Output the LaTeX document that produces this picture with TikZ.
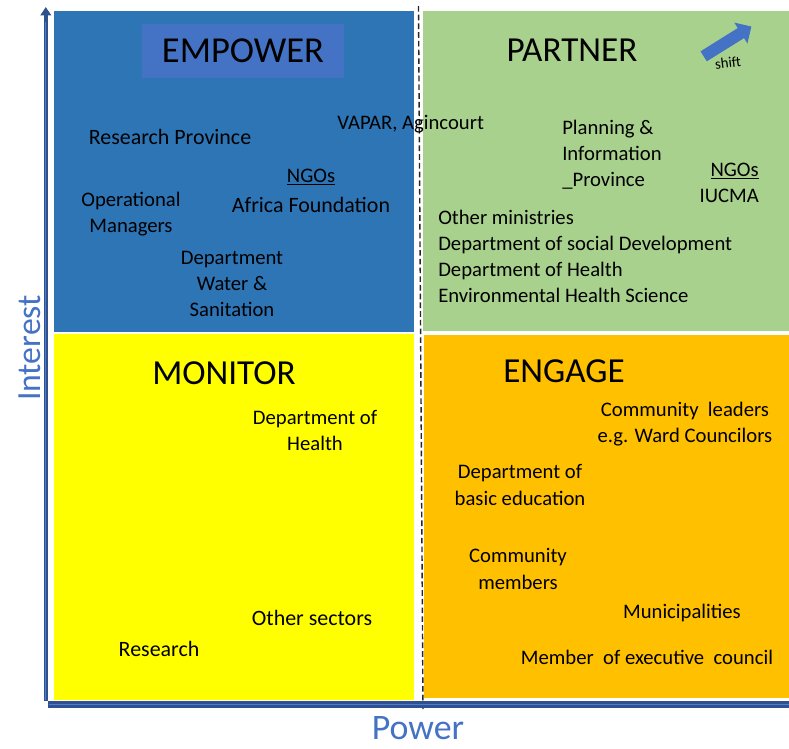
\documentclass[tikz,border=0pt]{standalone}
\usepackage{fontspec}
\setmainfont{Carlito}
\usetikzlibrary{arrows.meta,shapes.arrows}
\definecolor{gridBlue}{HTML}{2E75B6}
\definecolor{gridBlueLight}{HTML}{4472C4}
\definecolor{gridGreen}{HTML}{A9D18E}
\definecolor{gridYellow}{HTML}{FFFF00}
\definecolor{gridOrange}{HTML}{FFC000}
\definecolor{axisDark}{HTML}{2F528F}
\definecolor{axisLight}{HTML}{4F7BD0}
\tikzset{
  actor/.style={inner sep=0pt, align=center, text=black,
    font=\fontsize{14.7}{18.6}\selectfont},
  actor wide/.style={actor, font=\fontsize{15.6}{18.6}\selectfont},
  actor list/.style={actor, align=left, anchor=west},
  quadrant title/.style={inner sep=0pt, text=black,
    font=\fontsize{25}{30}\selectfont},
  axis label/.style={inner sep=0pt, text=gridBlueLight,
    font=\fontsize{24}{28}\selectfont},
  axis dark/.style={draw=axisDark, line width=4.6pt},
  axis light/.style={draw=axisLight, line width=1.4pt},
  split line/.style={draw=black!85, line width=1pt,
    dash pattern=on 4pt off 2.2pt},
  shift arrow/.style={single arrow, fill=gridBlueLight, draw=none,
    inner sep=4pt, single arrow head extend=4.6pt,
    minimum height=40pt, rotate=32}
}

\begin{document}
\begin{tikzpicture}[x=0.025cm, y=-0.025cm]
  \useasboundingbox (0,0) rectangle (789,749);

  % the four quadrants
  \fill[gridBlue] (54,11) rectangle (414,332);
  \fill[gridGreen] (423,11) rectangle (789,331);
  \fill[gridYellow] (54,334) rectangle (414,700);
  \fill[gridOrange] (424,335) rectangle (789,698);

  \draw[split line] (418.5,6) -- (423,709);

  % axes
  \draw[axis dark] (48,704.5) -- (789,704.5);
  \draw[axis light] (49,704.5) -- (789,704.5);
  \draw[draw=axisDark, line width=2.6pt,
    -{Triangle[length=6pt, width=7.5pt]}] (45.8,701) -- (45.8,7);
  \draw[draw=axisLight, line width=0.8pt] (45.8,700) -- (45.8,22);

  \node[axis label, rotate=90] (interest) at (30,348) {Interest};
  \node[axis label, font=\fontsize{25.5}{30}\selectfont]
    (power) at (418,728) {Power};

  % high interest, low power
  \node[quadrant title, fill=gridBlueLight, minimum width=143.7pt,
    minimum height=38.4pt, font=\fontsize{26}{30}\selectfont]
    (empower) at (243,51) {EMPOWER};
  \node[actor wide] (resprov) at (170,137) {Research Province};
  \node[actor, anchor=west] (vapar) at (337,124) {VAPAR, Agincourt};
  \node[actor] (ngosA) at (311,177) {\underline{NGOs}};
  \node[actor wide] (africa) at (311,205) {Africa Foundation};
  \node[actor] (opman) at (131,214) {Operational\\Managers};
  \node[actor] (dws) at (232,284) {Department\\Water \&\\Sanitation};

  % high interest, high power
  \node[quadrant title] (partner) at (572,50) {PARTNER};
  \node[shift arrow] (shiftarrow) at (725,43) {};
  \node[inner sep=0pt, rotate=7, font=\fontsize{10.5}{12}\selectfont]
    (shiftlbl) at (728,63) {shift};
  \node[actor list] (planning) at (562,155)
    {Planning \&\\Information\\\_Province};
  \node[actor, align=right, anchor=east] (ngosB) at (759,183)
    {\underline{NGOs}\\IUCMA};
  \node[actor list] (ministries) at (438,256.5)
    {Other ministries\\Department of social Development\\
     Department of Health\\Environmental Health Science};

  % low interest, low power
  \node[quadrant title] (monitor) at (224,373) {MONITOR};
  \node[actor] (dohB) at (315,430.5) {Department of\\Health};
  \node[actor wide] (othersec) at (312,618) {Other sectors};
  \node[actor wide] (research) at (159,649) {Research};

  % low interest, high power
  \node[quadrant title] (engage) at (564,371) {ENGAGE};
  \node[actor] (leaders) at (685,424.5)
    {Community~ leaders\\e.g. Ward Councilors};
  \node[actor] (basicedu) at (520,485) {Department of\\basic education};
  \node[actor] (members) at (518,569) {Community\\members};
  \node[actor] (munic) at (682,613) {Municipalities};
  \node[actor] (mec) at (647,657) {Member~ of executive~ council};
\end{tikzpicture}
\end{document}
